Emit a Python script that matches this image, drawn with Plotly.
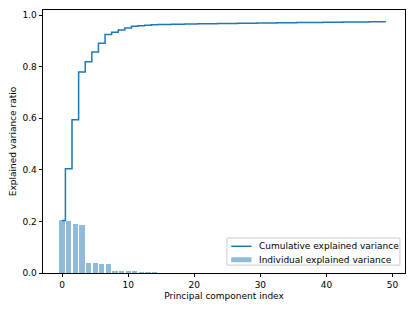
import numpy as np
import plotly.graph_objects as go

individual = [0.204, 0.200, 0.190, 0.186, 0.039, 0.038, 0.034, 0.034, 0.009, 0.008,
              0.008, 0.007, 0.002, 0.002, 0.002,
              0.0006, 0.0005, 0.0005, 0.0005, 0.0004, 0.0004, 0.0004, 0.0004, 0.0004, 0.0004,
              0.0003, 0.0003, 0.0003, 0.0003, 0.0003, 0.0003, 0.0003, 0.0003, 0.0003, 0.0003,
              0.0003, 0.0003, 0.0003, 0.0003, 0.0003, 0.0003, 0.0003, 0.0003, 0.0003,
              0.0002, 0.0002, 0.0002, 0.0002, 0.0002, 0.0002]
components = list(range(len(individual)))
cumulative = np.cumsum(individual)

x_ticks = [0, 10, 20, 30, 40, 50]
y_ticks = [0.0, 0.2, 0.4, 0.6, 0.8, 1.0]
legend_labels = ["Cumulative explained variance", "Individual explained variance"]

font = dict(family="DejaVu Sans", size=9, color="black")
line_color = "#1f77b4"
bar_color = "rgba(31,119,180,0.5)"

fig = go.Figure()
fig.add_trace(go.Bar(
    x=components, y=individual, width=0.8,
    marker=dict(color=bar_color, line=dict(width=0)),
    name=legend_labels[1], showlegend=False,
))
fig.add_trace(go.Scatter(
    x=components, y=cumulative, mode="lines",
    line=dict(color=line_color, width=1.5, shape="hvh"),
    name=legend_labels[0], showlegend=False,
))

axis_common = dict(
    showline=True, mirror=True, linecolor="black", linewidth=0.8,
    ticks="outside", ticklen=3.5, tickwidth=0.8, tickcolor="black",
    showgrid=False, zeroline=False, tickfont=font, automargin=False,
)
fig.update_xaxes(range=[-2.89, 51.89], tickvals=x_ticks,
                 title=dict(text="Principal component index", font=font, standoff=3),
                 **axis_common)
fig.update_yaxes(range=[0, 1.02], tickvals=y_ticks, tickformat=".1f",
                 title=dict(text="Explained variance ratio", font=font, standoff=6),
                 **axis_common)

# legend box (matplotlib-style, lower right)
fig.add_shape(type="rect", xref="x domain", yref="y domain",
              x0=0.508, x1=0.986, y0=0.030, y1=0.133,
              line=dict(color="#cccccc", width=1), fillcolor="rgba(255,255,255,0.8)")
fig.add_shape(type="line", xref="x domain", yref="y domain",
              x0=0.520, x1=0.576, y0=0.1015, y1=0.1015,
              line=dict(color=line_color, width=1.5))
fig.add_shape(type="rect", xref="x domain", yref="y domain",
              x0=0.520, x1=0.576, y0=0.041, y1=0.060,
              line=dict(width=0), fillcolor=bar_color)
for label, ypos in zip(legend_labels, [0.1015, 0.050]):
    fig.add_annotation(text=label, xref="x domain", yref="y domain",
                       x=0.592, y=ypos, xanchor="left", yanchor="middle",
                       showarrow=False, font=font)

fig.update_layout(
    width=407, height=303,
    margin=dict(l=35, r=10, t=2, b=38),
    plot_bgcolor="white", paper_bgcolor="white",
    font=font, bargap=0, showlegend=False,
)

fig.write_html("out.html")
